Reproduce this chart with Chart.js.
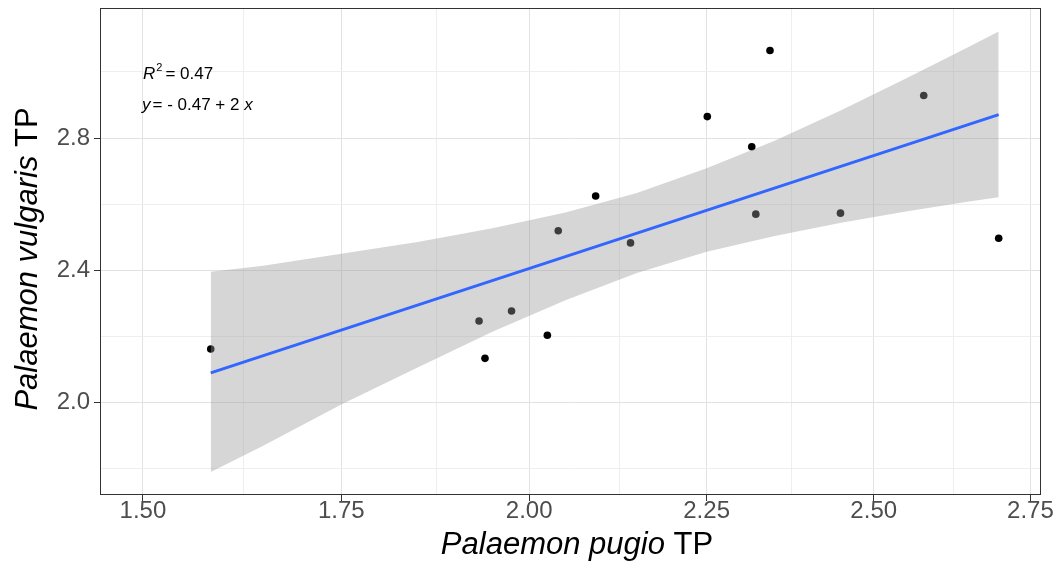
<!DOCTYPE html>
<html>
<head>
<meta charset="utf-8">
<script src="https://cdn.jsdelivr.net/npm/chart.js@4.4.1/dist/chart.umd.min.js"></script>
<style>
  html, body { margin: 0; padding: 0; background: #ffffff; }
  #c { display: block; }
</style>
</head>
<body>
<canvas id="c" width="1064" height="567"></canvas>
<script>
// ---- Data ----
const xValues = [1.584, 1.932, 1.940, 1.976, 2.025, 2.040, 2.092, 2.141, 2.251, 2.316, 2.322, 2.343, 2.449, 2.578, 2.698];
const yValues = [2.162, 2.247, 2.134, 2.277, 2.204, 2.520, 2.625, 2.483, 2.865, 2.774, 2.570, 3.065, 2.573, 2.929, 2.497];

const fitX = [1.584, 2.698];
const fitY = [2.090, 2.871];

const bandX     = [1.584, 1.65, 1.75, 1.85, 1.95, 2.05, 2.15, 2.25, 2.35, 2.45, 2.55, 2.65, 2.698];
const bandUpper = [2.396, 2.414, 2.450, 2.486, 2.527, 2.575, 2.634, 2.709, 2.792, 2.884, 2.980, 3.076, 3.122];
const bandLower = [1.790, 1.870, 1.994, 2.106, 2.214, 2.310, 2.392, 2.456, 2.504, 2.544, 2.578, 2.608, 2.621];

const xMajorTicks = [1.50, 1.75, 2.00, 2.25, 2.50, 2.75];
const xMinorTicks = [1.625, 1.875, 2.125, 2.375, 2.625];
const yMajorTicks = [2.0, 2.4, 2.8];
const yMinorTicks = [1.8, 2.2, 2.6, 3.0];

const xTitleItalic = 'Palaemon pugio';
const yTitleItalic = 'Palaemon vulgaris';
const titleSuffix = 'TP';
const r2Text = '0.47';
const eqIntercept = '0.47';
const eqSlope = '2';

// ---- x axis of the reference is drawn with a slightly compressed spacing toward the right ----
const WARP = 0.154;
class WarpedLinearScale extends Chart.LinearScale {
  static id = 'warpedLinear';
  static defaults = Chart.LinearScale.defaults;
  getPixelForValue(value) {
    if (value === null || value === undefined || isNaN(value)) return NaN;
    const t = (value - this.min) / (this.max - this.min);
    return this.getPixelForDecimal(t + WARP * t * (1 - t));
  }
  getValueForPixel(pixel) {
    const f = this.getDecimalForPixel(pixel);
    const a = WARP;
    const t = ((1 + a) - Math.sqrt((1 + a) * (1 + a) - 4 * a * f)) / (2 * a);
    return this.min + t * (this.max - this.min);
  }
}
Chart.register(WarpedLinearScale);

const isIn = (v, arr) => arr.some(m => Math.abs(m - v) < 1e-6);
const pts = (xs, ys) => xs.map((x, i) => ({ x: x, y: ys[i] }));

const FONT = "'Liberation Sans', Arial, Helvetica, sans-serif";

function drawRuns(ctx, x, y, runs) {
  let cx = x;
  for (const r of runs) {
    ctx.font = r.font;
    ctx.fillText(r.text, cx, y + (r.dy || 0));
    cx += ctx.measureText(r.text).width + (r.gap || 0);
  }
  return cx;
}
function runsWidth(ctx, runs) {
  let w = 0;
  for (const r of runs) { ctx.font = r.font; w += ctx.measureText(r.text).width + (r.gap || 0); }
  return w;
}

const decorPlugin = {
  id: 'decor',
  afterDatasetsDraw(chart) {
    const { ctx, chartArea: a } = chart;
    ctx.save();
    // panel border
    ctx.strokeStyle = '#333333';
    ctx.lineWidth = 1;
    ctx.strokeRect(Math.round(a.left) + 0.5, Math.round(a.top) + 0.5,
                   Math.round(a.right - a.left) - 1, Math.round(a.bottom - a.top) - 1);

    ctx.fillStyle = '#000000';
    ctx.textBaseline = 'alphabetic';
    ctx.textAlign = 'left';

    // annotation: R^2 and equation
    const fN = '17px ' + FONT, fI = 'italic 17px ' + FONT, fS = '11px ' + FONT;
    drawRuns(ctx, a.left + 43, 79, [
      { text: 'R', font: fI, gap: 1 },
      { text: '2', font: fS, dy: -8, gap: 3 },
      { text: '= ' + r2Text, font: fN }
    ]);
    drawRuns(ctx, a.left + 42, 110, [
      { text: 'y', font: fI, gap: 2 },
      { text: '= - ' + eqIntercept + ' + ' + eqSlope + ' ', font: fN },
      { text: 'x', font: fI }
    ]);

    // axis titles
    const tI = 'italic 31px ' + FONT, tN = '31px ' + FONT;
    const xRuns = [{ text: xTitleItalic + ' ', font: tI }, { text: titleSuffix, font: tN }];
    const xw = runsWidth(ctx, xRuns);
    drawRuns(ctx, 577 - xw / 2, 554, xRuns);

    const yRuns = [{ text: yTitleItalic + ' ', font: tI }, { text: titleSuffix, font: tN }];
    const yw = runsWidth(ctx, yRuns);
    ctx.translate(37, 259);
    ctx.rotate(-Math.PI / 2);
    drawRuns(ctx, -yw / 2, 0, yRuns);
    ctx.restore();
  }
};

new Chart(document.getElementById('c'), {
  type: 'line',
  data: {
    datasets: [
      {
        label: 'points',
        data: pts(xValues, yValues),
        showLine: false,
        pointRadius: 3.8,
        pointHoverRadius: 3.8,
        pointBackgroundColor: '#000000',
        pointBorderWidth: 0,
        borderColor: '#000000',
        order: 3
      },
      {
        label: 'upper',
        data: pts(bandX, bandUpper),
        borderWidth: 0,
        borderColor: 'rgba(0,0,0,0)',
        pointRadius: 0,
        tension: 0,
        fill: '+1',
        backgroundColor: 'rgba(153,153,153,0.4)',
        order: 2
      },
      {
        label: 'lower',
        data: pts(bandX, bandLower),
        borderWidth: 0,
        borderColor: 'rgba(0,0,0,0)',
        pointRadius: 0,
        tension: 0,
        fill: false,
        order: 2
      },
      {
        label: 'fit',
        data: pts(fitX, fitY),
        borderColor: '#3366FF',
        borderWidth: 3,
        pointRadius: 0,
        tension: 0,
        fill: false,
        order: 1
      }
    ]
  },
  options: {
    responsive: false,
    animation: false,
    devicePixelRatio: 1,
    layout: { padding: { left: 0, right: 23, top: 8, bottom: 0 } },
    plugins: { legend: { display: false }, tooltip: { enabled: false }, title: { display: false } },
    scales: {
      x: {
        type: 'warpedLinear',
        min: 1.4475,
        max: 2.7675,
        afterBuildTicks: s => { s.ticks = xMajorTicks.concat(xMinorTicks).sort((p, q) => p - q).map(v => ({ value: v })); },
        afterFit: s => { s.height = 72; s.paddingLeft = 0; s.paddingRight = 0; },
        border: { display: false },
        grid: {
          color: c => isIn(c.tick.value, xMajorTicks) ? '#e2e2e2' : '#eeeeee',
          lineWidth: 1,
          tickColor: c => isIn(c.tick.value, xMajorTicks) ? '#333333' : 'rgba(0,0,0,0)',
          tickLength: 6,
          drawTicks: true
        },
        ticks: {
          autoSkip: false,
          maxRotation: 0,
          padding: 0,
          color: '#4d4d4d',
          font: { family: FONT, size: 24, lineHeight: 0.85 },
          callback: v => isIn(v, xMajorTicks) ? v.toFixed(2) : ''
        }
      },
      y: {
        type: 'linear',
        min: 1.7207,
        max: 3.1934,
        afterBuildTicks: s => { s.ticks = yMajorTicks.concat(yMinorTicks).sort((p, q) => p - q).map(v => ({ value: v })); },
        afterFit: s => { s.width = 100; s.paddingTop = 0; s.paddingBottom = 0; },
        border: { display: false },
        grid: {
          color: c => isIn(c.tick.value, yMajorTicks) ? '#e2e2e2' : '#eeeeee',
          lineWidth: 1,
          tickColor: c => isIn(c.tick.value, yMajorTicks) ? '#333333' : 'rgba(0,0,0,0)',
          tickLength: 6,
          drawTicks: true
        },
        ticks: {
          autoSkip: false,
          padding: 4,
          color: '#4d4d4d',
          font: { family: FONT, size: 24 },
          callback: v => isIn(v, yMajorTicks) ? v.toFixed(1) : ''
        }
      }
    }
  },
  plugins: [decorPlugin]
});
</script>
</body>
</html>
